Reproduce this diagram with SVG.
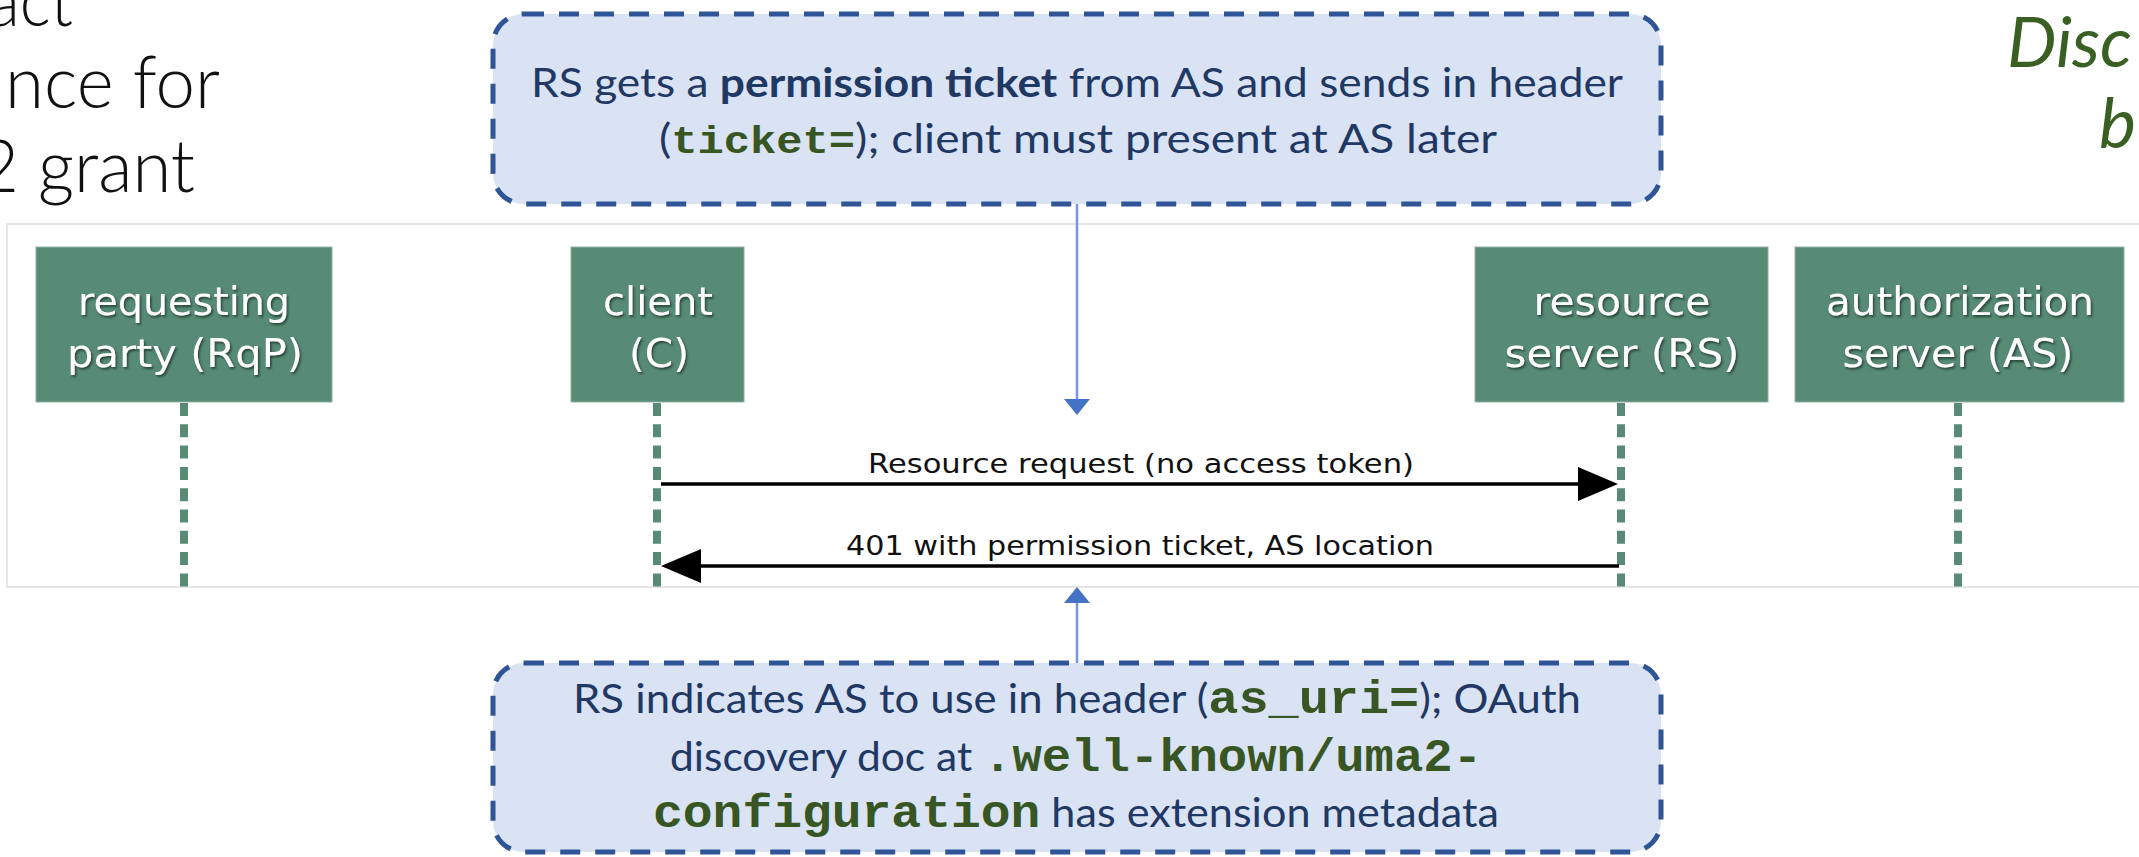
<svg xmlns="http://www.w3.org/2000/svg" width="2139" height="857" viewBox="0 0 2139 857">
<defs>
<style>
.title{font-family:Lato,"Open Sans","Liberation Sans",sans-serif;font-weight:300;font-size:72px;fill:#111}
.side{font-family:Lato,"Open Sans","Liberation Sans",sans-serif;font-style:italic;font-size:70px;fill:#3a5f23}
.callout{fill:#dae3f3;stroke:#2f5597;stroke-width:5;stroke-dasharray:20 15}
.ct{font-family:Lato,"Open Sans","Liberation Sans",sans-serif;font-size:40px;fill:#1f3864}
.b{font-weight:bold}
.mono{font-family:"Liberation Mono","DejaVu Sans Mono",monospace;font-weight:bold;fill:#375623}
.frame{fill:#fff;stroke:#dedede;stroke-width:1.5}
.actor{fill:#578b75;stroke:#8fb3a3;stroke-width:1}
.al{font-family:"DejaVu Sans","Liberation Sans",sans-serif;font-size:39px;fill:#fff;text-anchor:middle}
.life{stroke:#578b75;stroke-width:8;stroke-dasharray:13 8.3}
.msg{stroke:#000;stroke-width:3.5;fill:none}
.ml{font-family:"DejaVu Sans","Liberation Sans",sans-serif;font-size:27px;fill:#111}
.ptr{stroke:#7596dc;stroke-width:2.5;fill:none}
</style>
<filter id="sh" x="-10%" y="-20%" width="120%" height="150%">
<feDropShadow dx="1.5" dy="2" stdDeviation="1.2" flood-color="#1e3a2e" flood-opacity="0.85"/>
</filter>
<marker id="ah" viewBox="0 0 40 34" refX="34" refY="17" markerWidth="40" markerHeight="34" markerUnits="userSpaceOnUse" orient="auto">
<path d="M0,0 L40,17 L0,34 z" fill="#000"/>
</marker>
<marker id="bh" viewBox="0 0 16 26" refX="14" refY="13" markerWidth="16" markerHeight="26" markerUnits="userSpaceOnUse" orient="auto">
<path d="M0,0 L16,13 L0,26 z" fill="#4472c4"/>
</marker>
</defs>
<rect width="2139" height="857" fill="#fff"/>

<g id="title-left">
<text class="title" x="-12" y="26" textLength="85" lengthAdjust="spacingAndGlyphs">act</text>
<text class="title" x="5" y="108" textLength="215" lengthAdjust="spacingAndGlyphs">nce for</text>
<text class="title" x="-22" y="192" textLength="217" lengthAdjust="spacingAndGlyphs">2 grant</text>
</g>
<g id="title-right">
<text class="side" x="2007" y="67">Disc</text>
<text class="side" x="2099" y="148">b</text>
</g>

<g id="frame">
<rect class="frame" x="7" y="224" width="2140" height="363"/>
</g>

<g id="rqp">
<rect class="actor" x="36" y="247" width="296" height="155"/>
<g filter="url(#sh)">
<text class="al" x="184" y="315" textLength="212" lengthAdjust="spacingAndGlyphs">requesting</text>
<text class="al" x="185" y="367" textLength="236" lengthAdjust="spacingAndGlyphs">party (RqP)</text>
</g>
<line class="life" x1="184" y1="403" x2="184" y2="587"/>
</g>
<g id="client">
<rect class="actor" x="571" y="247" width="173" height="155"/>
<g filter="url(#sh)">
<text class="al" x="658" y="315" textLength="110" lengthAdjust="spacingAndGlyphs">client</text>
<text class="al" x="659" y="367" textLength="60" lengthAdjust="spacingAndGlyphs">(C)</text>
</g>
<line class="life" x1="657" y1="403" x2="657" y2="587"/>
</g>
<g id="rs">
<rect class="actor" x="1475" y="247" width="293" height="155"/>
<g filter="url(#sh)">
<text class="al" x="1622" y="315" textLength="177" lengthAdjust="spacingAndGlyphs">resource</text>
<text class="al" x="1622" y="367" textLength="235" lengthAdjust="spacingAndGlyphs">server (RS)</text>
</g>
<line class="life" x1="1621" y1="403" x2="1621" y2="587"/>
</g>
<g id="as">
<rect class="actor" x="1795" y="247" width="329" height="155"/>
<g filter="url(#sh)">
<text class="al" x="1960" y="315" textLength="268" lengthAdjust="spacingAndGlyphs">authorization</text>
<text class="al" x="1958" y="367" textLength="231" lengthAdjust="spacingAndGlyphs">server (AS)</text>
</g>
<line class="life" x1="1958" y1="403" x2="1958" y2="587"/>
</g>

<g id="callout-ticket">
<rect class="callout" x="493" y="14" width="1168" height="190" rx="31" ry="31"/>
<text class="ct" x="531" y="97" textLength="1092" lengthAdjust="spacingAndGlyphs">RS gets a <tspan class="b">permission ticket</tspan> from AS and sends in header</text>
<text class="ct" x="659" y="153" textLength="838" lengthAdjust="spacingAndGlyphs">(<tspan class="mono" font-size="38">ticket=</tspan>); client must present at AS later</text>
</g>

<g id="callout-asuri">
<rect class="callout" x="493" y="663" width="1168" height="189" rx="31" ry="31"/>
<text class="ct" x="573" y="713" textLength="1008" lengthAdjust="spacingAndGlyphs">RS indicates AS to use in header (<tspan class="mono" font-size="46">as_uri=</tspan>); OAuth</text>
<text class="ct" x="670" y="771" textLength="812" lengthAdjust="spacingAndGlyphs">discovery doc at <tspan class="mono" font-size="46">.well-known/uma2-</tspan></text>
<text class="ct" x="653" y="827" textLength="846" lengthAdjust="spacingAndGlyphs"><tspan class="mono" font-size="46">configuration</tspan> has extension metadata</text>
</g>

<g id="connectors">
<line class="msg" x1="661" y1="484" x2="1612" y2="484" marker-end="url(#ah)"/>
<text class="ml" x="868" y="473" textLength="546" lengthAdjust="spacingAndGlyphs">Resource request (no access token)</text>
<line class="msg" x1="1619" y1="566" x2="667" y2="566" marker-end="url(#ah)"/>
<text class="ml" x="846" y="555" textLength="588" lengthAdjust="spacingAndGlyphs">401 with permission ticket, AS location</text>
<line class="ptr" x1="1077" y1="204" x2="1077" y2="413" marker-end="url(#bh)"/>
<line class="ptr" x1="1077" y1="663" x2="1077" y2="589" marker-end="url(#bh)"/>
</g>
</svg>
